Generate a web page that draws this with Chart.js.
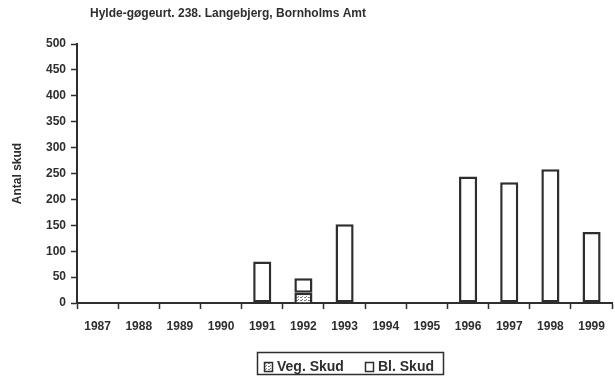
<!DOCTYPE html>
<html>
<head>
<meta charset="utf-8">
<script src="https://cdn.jsdelivr.net/npm/chart.js@4.4.1/dist/chart.umd.min.js"></script>
<style>
    html, body { margin: 0; padding: 0; background: #fff; }
    #wrap { width: 615px; height: 378px; position: relative; }
</style>
</head>
<body>
<div id="wrap"><canvas id="skudChart"></canvas></div>
<script>
/* ── DATA ───────────────────────────────────── */
const years    = ['1987', '1988', '1989', '1990', '1991', '1992', '1993', '1994', '1995', '1996', '1997', '1998', '1999'];
const vegSkud  = [0, 0, 0, 0, 0, 20, 0, 0, 0, 0, 0, 0, 0];
const blSkud   = [0, 0, 0, 0, 80, 28, 152, 0, 0, 244, 233, 258, 137];
const yTicks   = [0, 50, 100, 150, 200, 250, 300, 350, 400, 450, 500];

const titleText = 'Hylde-gøgeurt. 238. Langebjerg, Bornholms Amt';
const ink  = '#2e2e2e';
const font = '"Liberation Sans", Arial, sans-serif';

/* ── DOTTED FILL FOR VEG. SKUD ──────────────── */
function dotPattern() {
    const c = document.createElement('canvas');
    c.width = 4; c.height = 3;
    const g = c.getContext('2d');
    g.fillStyle = '#fff';
    g.fillRect(0, 0, 4, 3);
    g.fillStyle = '#7a7a7a';
    g.fillRect(0, 0, 2, 1);
    g.fillRect(2, 2, 1, 1);
    return g.createPattern(c, 'repeat');
}
const vegFill = dotPattern();

/* ── TITLE + LEGEND DRAWN ON CANVAS ─────────── */
const annotations = {
    id: 'annotations',
    afterDraw(chart) {
        const ctx = chart.ctx;
        ctx.save();
        ctx.fillStyle = ink;
        ctx.font = `bold 12px ${font}`;
        ctx.textBaseline = 'middle';
        ctx.textAlign = 'left';
        ctx.fillText(titleText, 90, 14);

        // legend box
        ctx.strokeStyle = ink;
        ctx.lineWidth = 1.5;
        ctx.strokeRect(257.5, 352.5, 186, 22);

        ctx.font = `bold 14px ${font}`;
        const items = [
            { label: 'Veg. Skud', x: 264, fill: vegFill },
            { label: 'Bl. Skud',  x: 365, fill: '#fff' }
        ];
        items.forEach(it => {
            ctx.fillStyle = it.fill;
            ctx.fillRect(it.x, 362, 8, 9);
            ctx.lineWidth = 1.5;
            ctx.strokeRect(it.x + 0.5, 362.5, 8, 9);
            ctx.fillStyle = ink;
            ctx.fillText(it.label, it.x + 13, 367);
        });
        ctx.restore();
    }
};

/* ── CHART ──────────────────────────────────── */
new Chart(document.getElementById('skudChart'), {
    type: 'bar',
    data: {
        labels: years,
        datasets: [
            {
                label: 'Veg. Skud',
                data: vegSkud,
                backgroundColor: vegFill,
                borderColor: ink,
                borderWidth: 2.5,
                borderSkipped: 'bottom',
                barPercentage: 0.88,
                categoryPercentage: 0.5
            },
            {
                label: 'Bl. Skud',
                data: blSkud,
                backgroundColor: '#fff',
                borderColor: ink,
                borderWidth: 2.5,
                borderSkipped: false,
                barPercentage: 0.88,
                categoryPercentage: 0.5
            }
        ]
    },
    options: {
        responsive: true,
        maintainAspectRatio: false,
        animation: false,
        devicePixelRatio: 1,
        layout: { padding: { top: 44, right: 2, left: 0, bottom: 0 } },
        plugins: {
            legend: { display: false },
            title: { display: false },
            tooltip: { enabled: false }
        },
        scales: {
            x: {
                stacked: true,
                border: { color: ink, width: 2 },
                grid: { offset: true, drawOnChartArea: false, tickLength: 6, tickColor: ink, tickWidth: 1.5 },
                ticks: { color: ink, font: { family: font, size: 12, weight: 'bold' }, padding: 10, maxRotation: 0, autoSkip: false },
                afterFit: s => { s.height = 75; }
            },
            y: {
                stacked: true,
                min: 0,
                max: 500,
                border: { color: ink, width: 2 },
                grid: { drawOnChartArea: false, tickLength: 6, tickColor: ink, tickWidth: 1.5 },
                afterBuildTicks: s => { s.ticks = yTicks.map(v => ({ value: v })); },
                ticks: { color: ink, font: { family: font, size: 12, weight: 'bold' }, padding: 5 },
                title: {
                    display: true,
                    text: 'Antal skud',
                    color: ink,
                    font: { family: font, size: 12, weight: 'bold' },
                    padding: { top: 10, bottom: 0 }
                },
                afterFit: s => { s.width = 77; }
            }
        }
    },
    plugins: [annotations]
});
</script>
</body>
</html>
